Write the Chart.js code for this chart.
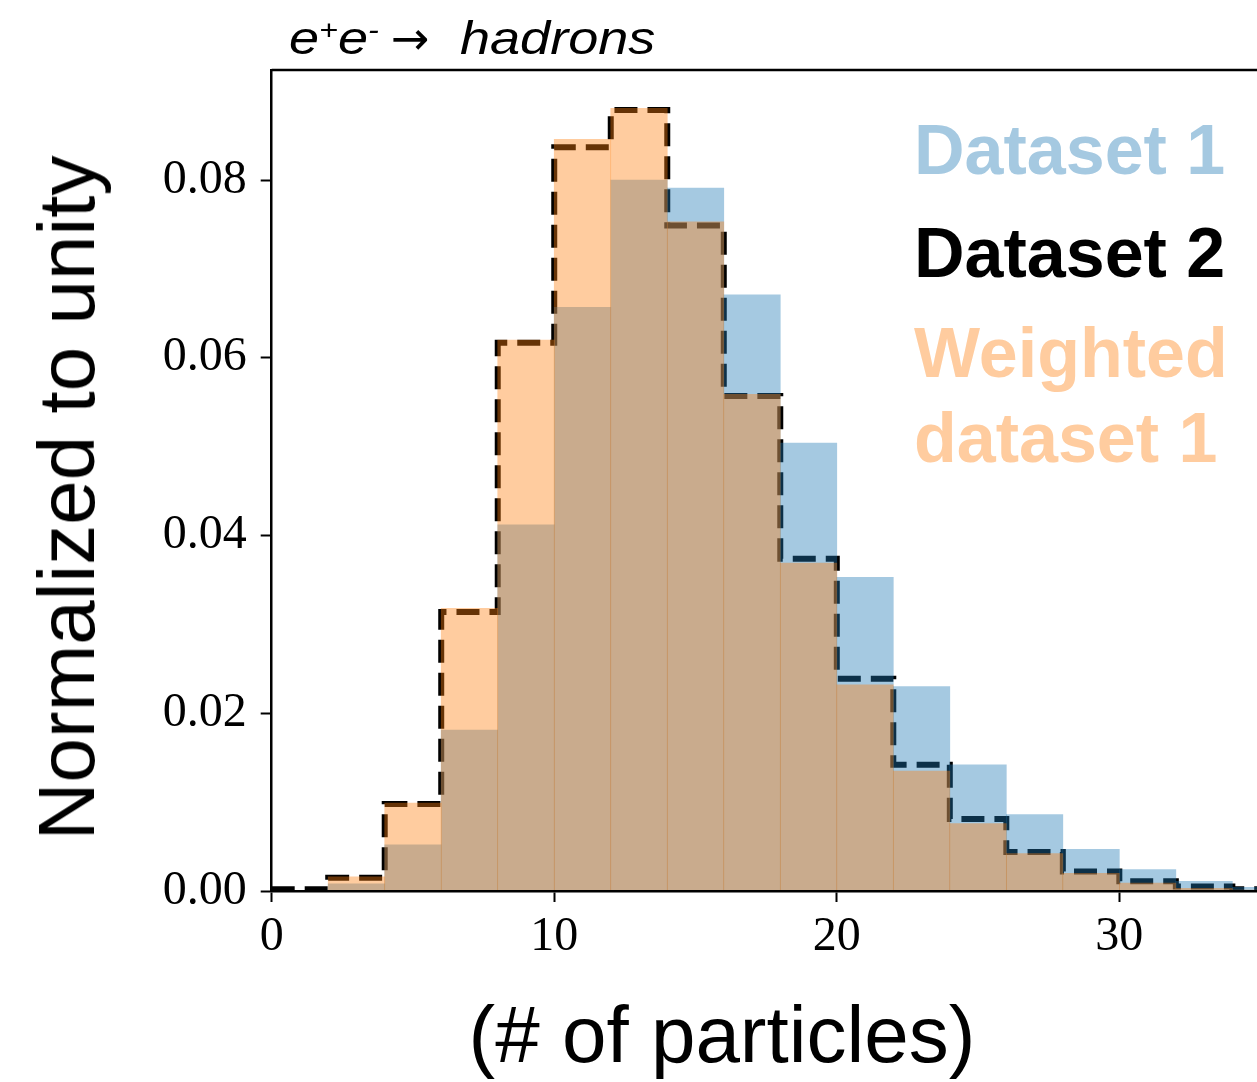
<!DOCTYPE html>
<html>
<head>
<meta charset="utf-8">
<title>e+e- hadrons multiplicity</title>
<script src="https://cdn.jsdelivr.net/npm/chart.js@4.4.1/dist/chart.umd.min.js"></script>
<style>
    html, body { margin: 0; padding: 0; background: #fff; overflow: hidden; }
    #wrap { position: relative; width: 1265px; height: 1082px; }
    #histChart { position: absolute; left: 0; top: 0; }
    .txt { position: absolute; white-space: nowrap; line-height: 1; font-family: "Liberation Sans", Arial, sans-serif; color: #000; }
    .ttl { font-size: 47px; font-style: italic; top: 14px; transform: scaleX(1.15); transform-origin: left center; }
    .ttl sup { font-size: 0.6em; vertical-align: 0.55em; line-height: 0; }
    #arrow { left: 391px; top: 15px; font-size: 46px; font-family: "DejaVu Sans", sans-serif; }
    #ylabel { left: 67px; top: 498px; font-size: 80px; transform: translate(-50%, -50%) rotate(-90deg); }
    #xlabel { left: 722px; top: 995px; font-size: 80px; transform: translateX(-50%); }
    .leg { left: 914px; font-size: 70px; font-weight: bold; }
</style>
</head>
<body>
<div id="wrap">
    <canvas id="histChart" width="1265" height="1082"></canvas>
    <div class="txt ttl" style="left:289px">e<sup>+</sup>e<sup>-</sup></div>
    <div class="txt" id="arrow">&rarr;</div>
    <div class="txt ttl" style="left:460px">hadrons</div>
    <div class="txt" id="ylabel">Normalized to unity</div>
    <div class="txt" id="xlabel">(# of particles)</div>
    <div class="txt leg" style="top:115px;color:rgb(165,201,225)">Dataset 1</div>
    <div class="txt leg" style="top:218px;color:#000">Dataset 2</div>
    <div class="txt leg" style="top:318px;color:rgb(255,204,159)">Weighted</div>
    <div class="txt leg" style="top:403px;color:rgb(255,204,159)">dataset 1</div>
</div>
<script>
// bin edges of the multiplicity histogram (width 2)
const binEdges = [0, 2, 4, 6, 8, 10, 12, 14, 16, 18, 20, 22, 24, 26, 28, 30, 32, 34, 36];

// normalized bin contents
const dataset1 = [0.0000, 0.0008, 0.0052, 0.0181, 0.0412, 0.0657, 0.0800, 0.0791, 0.0671,
                  0.0504, 0.0353, 0.0230, 0.0142, 0.0086, 0.0047, 0.0024, 0.0011, 0.0004];
const dataset2 = [0.0002, 0.0015, 0.0098, 0.0314, 0.0617, 0.0837, 0.0879, 0.0749, 0.0557,
                  0.0374, 0.0239, 0.0142, 0.0081, 0.0044, 0.0022, 0.0011, 0.0005, 0.0002];
const weighted1 = [0.0000, 0.0016, 0.0099, 0.0318, 0.0620, 0.0846, 0.0881, 0.0753, 0.0559,
                   0.0369, 0.0232, 0.0135, 0.0076, 0.0042, 0.0020, 0.0009, 0.0003, 0.0001];

const xTicks = [0, 10, 20, 30];
const yTicks = [0.00, 0.02, 0.04, 0.06, 0.08];

function barPoints(values) {
    return values.map(function(v, i) {
        return { x: (binEdges[i] + binEdges[i + 1]) / 2, y: v };
    });
}

function stepPoints(values) {
    return binEdges.map(function(e, i) {
        return { x: e, y: values[Math.min(i, values.length - 1)] };
    });
}

const frame = {
    id: 'frame',
    afterDraw: function(chart) {
        const a = chart.chartArea;
        const ctx = chart.ctx;
        ctx.save();
        ctx.strokeStyle = '#000';
        ctx.lineWidth = 2.5;
        ctx.beginPath();
        ctx.moveTo(a.left, a.top);
        ctx.lineTo(a.right, a.top);
        ctx.lineTo(a.right, a.bottom);
        ctx.stroke();
        ctx.restore();
    }
};

const tickFont = { family: '"Liberation Serif", "Times New Roman", serif', size: 48 };

new Chart(document.getElementById('histChart'), {
    type: 'bar',
    data: {
        datasets: [{
            label: 'Weighted dataset 1',
            data: barPoints(weighted1),
            backgroundColor: 'rgba(255, 127, 14, 0.4)',
            borderWidth: 0,
            barPercentage: 1,
            categoryPercentage: 1,
            grouped: false,
            order: 0
        }, {
            label: 'Dataset 1',
            data: barPoints(dataset1),
            backgroundColor: 'rgba(31, 119, 180, 0.4)',
            borderWidth: 0,
            barPercentage: 1,
            categoryPercentage: 1,
            grouped: false,
            order: 1
        }, {
            type: 'line',
            label: 'Dataset 2',
            data: stepPoints(dataset2),
            borderColor: '#000',
            borderWidth: 6,
            borderDash: [23, 10],
            borderCapStyle: 'butt',
            stepped: true,
            fill: false,
            pointRadius: 0,
            order: 2
        }]
    },
    options: {
        responsive: false,
        animation: false,
        layout: { padding: { left: 0, top: 70, right: 4.4, bottom: 0 } },
        plugins: {
            legend: { display: false },
            tooltip: { enabled: false }
        },
        scales: {
            x: {
                type: 'linear',
                min: 0,
                max: 35,
                offset: false,
                afterFit: function(s) { s.height = 191; },
                afterBuildTicks: function(s) { s.ticks = xTicks.map(function(v) { return { value: v }; }); },
                grid: { drawOnChartArea: false, tickLength: 11, tickWidth: 2, tickColor: '#000', offset: false },
                border: { display: true, color: '#000', width: 2.5, z: 1 },
                ticks: {
                    font: tickFont,
                    color: '#000',
                    padding: 7,
                    maxRotation: 0,
                    callback: function(v) { return String(v); }
                }
            },
            y: {
                min: 0,
                max: 0.0924,
                afterFit: function(s) { s.width = 271.7; },
                afterBuildTicks: function(s) { s.ticks = yTicks.map(function(v) { return { value: v }; }); },
                grid: { drawOnChartArea: false, tickLength: 11, tickWidth: 2, tickColor: '#000' },
                border: { display: true, color: '#000', width: 2.5, z: 1 },
                ticks: {
                    font: tickFont,
                    color: '#000',
                    padding: 14,
                    callback: function(v) { return v.toFixed(2); }
                }
            }
        }
    },
    plugins: [frame]
});
</script>
</body>
</html>
